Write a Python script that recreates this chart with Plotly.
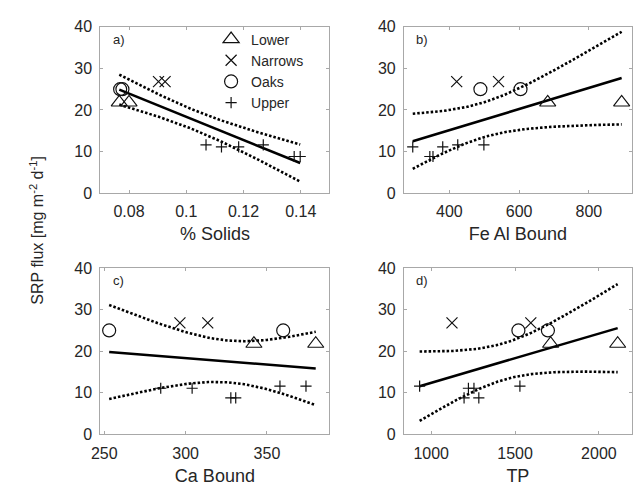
import numpy as np
import plotly.graph_objects as go

# ---------------- data ----------------
site_names = ["Lower", "Narrows", "Oaks", "Upper"]
site = ["Lower", "Lower", "Narrows", "Narrows", "Oaks", "Oaks",
        "Upper", "Upper", "Upper", "Upper", "Upper", "Upper"]
srp_flux = [21.8, 21.8, 26.8, 26.8, 25.0, 25.0, 11.6, 11.6, 11.1, 11.1, 8.8, 8.8]
pct_solids = [0.0766, 0.0800, 0.0903, 0.0926, 0.0769, 0.0777,
              0.1069, 0.1269, 0.1123, 0.1183, 0.1377, 0.1398]
fe_al_bound = [682, 894, 421, 541, 489, 604, 424, 499, 295, 381, 344, 353]
ca_bound = [342, 380, 296.5, 313.6, 253, 360, 358, 374, 284.7, 304, 327.8, 330.8]
tp = [1712, 2112, 1124, 1594, 1520, 1696, 931, 1529, 1222, 1255, 1196, 1284]

panel_labels = ["a)", "b)", "c)", "d)"]
x_titles = ["% Solids", "Fe Al Bound", "Ca Bound", "TP"]
x_values = [pct_solids, fe_al_bound, ca_bound, tp]
x_ranges = [[0.07, 0.15], [270, 923], [247.6, 388.4], [838, 2196]]
x_tickvals = [[0.08, 0.1, 0.12, 0.14], [400, 600, 800], [250, 300, 350], [1000, 1500, 2000]]
x_ticktext = [["0.08", "0.1", "0.12", "0.14"], ["400", "600", "800"],
              ["250", "300", "350"], ["1000", "1500", "2000"]]
y_range = [0, 40]
y_ticks = [0, 10, 20, 30, 40]
t_crit = 2.228  # Student t, 95 %, 10 d.o.f.

# ---------------- styling ----------------
symbols = {"Lower": "triangle-up-open", "Narrows": "x-thin-open",
           "Oaks": "circle-open", "Upper": "cross-thin-open"}
sizes = {"Lower": 14, "Narrows": 11, "Oaks": 13, "Upper": 8}
W, H = 636, 493
x_dom = [[92.7 / W, 325 / W], [400.7 / W, 631.7 / W]]
y_dom = [[1 - 191.7 / H, 1 - 19.5 / H], [1 - 441.7 / H, 1 - 269.3 / H]]
font_family = "Liberation Sans, Arial, Helvetica, sans-serif"
txt_col = "#262626"
axis_col = "#a8a8a8"

fig = go.Figure()
srp = np.array(srp_flux, dtype=float)

for i in range(4):
    ax = "" if i == 0 else str(i + 1)
    xref, yref = "x" + ax, "y" + ax
    xv = np.array(x_values[i], dtype=float)

    # regression + 95% confidence band of mean
    n = len(xv)
    xm, ym = xv.mean(), srp.mean()
    sxx = ((xv - xm) ** 2).sum()
    slope = ((xv - xm) * (srp - ym)).sum() / sxx
    icpt = ym - slope * xm
    resid = srp - (icpt + slope * xv)
    s = np.sqrt((resid ** 2).sum() / (n - 2))
    xg = np.linspace(xv.min(), xv.max(), 120)
    yg = icpt + slope * xg
    half = t_crit * s * np.sqrt(1.0 / n + (xg - xm) ** 2 / sxx)

    for band in (yg + half, yg - half):
        fig.add_trace(go.Scatter(x=xg, y=band, mode="lines", xaxis=xref, yaxis=yref,
                                 line=dict(color="black", width=2.6, dash="2.5px,2px"),
                                 showlegend=False, hoverinfo="skip"))
    fig.add_trace(go.Scatter(x=[xg[0], xg[-1]], y=[yg[0], yg[-1]], mode="lines",
                             xaxis=xref, yaxis=yref,
                             line=dict(color="black", width=2.6), showlegend=False))

    for name in site_names:
        idx = [k for k, s_ in enumerate(site) if s_ == name]
        fig.add_trace(go.Scatter(
            x=[x_values[i][k] for k in idx], y=[srp_flux[k] for k in idx],
            mode="markers", name=name, xaxis=xref, yaxis=yref,
            marker=dict(symbol=symbols[name], size=sizes[name], color="#111111",
                        line=dict(width=1.2, color="#111111")),
            showlegend=(i == 0)))

    col, row = i % 2, i // 2
    axis_common = dict(showline=True, linecolor=axis_col, linewidth=1.2, mirror="allticks",
                       ticks="inside", ticklen=3, tickcolor=axis_col, showgrid=False,
                       zeroline=False, tickfont=dict(size=16, color=txt_col, family=font_family))
    fig.layout["xaxis" + ax] = dict(
        domain=x_dom[col], range=x_ranges[i], anchor=yref,
        tickvals=x_tickvals[i], ticktext=x_ticktext[i], ticklabelstandoff=4,
        title=dict(text=x_titles[i], font=dict(size=18, color=txt_col, family=font_family),
                   standoff=8),
        **axis_common)
    fig.layout["yaxis" + ax] = dict(
        domain=y_dom[row], range=y_range, anchor=xref, tickvals=y_ticks,
        ticklabelstandoff=4, **axis_common)

    fig.add_annotation(text=panel_labels[i], xref=xref + " domain", yref=yref + " domain",
                       x=0.045, y=0.925, xanchor="left", yanchor="middle", showarrow=False,
                       font=dict(size=13, color=txt_col, family=font_family))

fig.add_annotation(text="SRP flux [mg m<sup>-2</sup> d<sup>-1</sup>]", xref="paper", yref="paper",
                   x=28 / W, y=1 - 230 / H, textangle=-90, showarrow=False,
                   xanchor="center", yanchor="middle",
                   font=dict(size=16, color=txt_col, family=font_family))

fig.update_layout(
    width=W, height=H, margin=dict(l=0, r=0, t=0, b=0),
    paper_bgcolor="white", plot_bgcolor="white",
    font=dict(family=font_family, color=txt_col),
    legend=dict(x=205 / W, y=1 - 16 / H, xanchor="left", yanchor="top",
                bgcolor="rgba(0,0,0,0)", font=dict(size=14, color=txt_col, family=font_family),
                itemwidth=30, tracegroupgap=0),
    showlegend=True,
)

fig.write_html("out.html")
